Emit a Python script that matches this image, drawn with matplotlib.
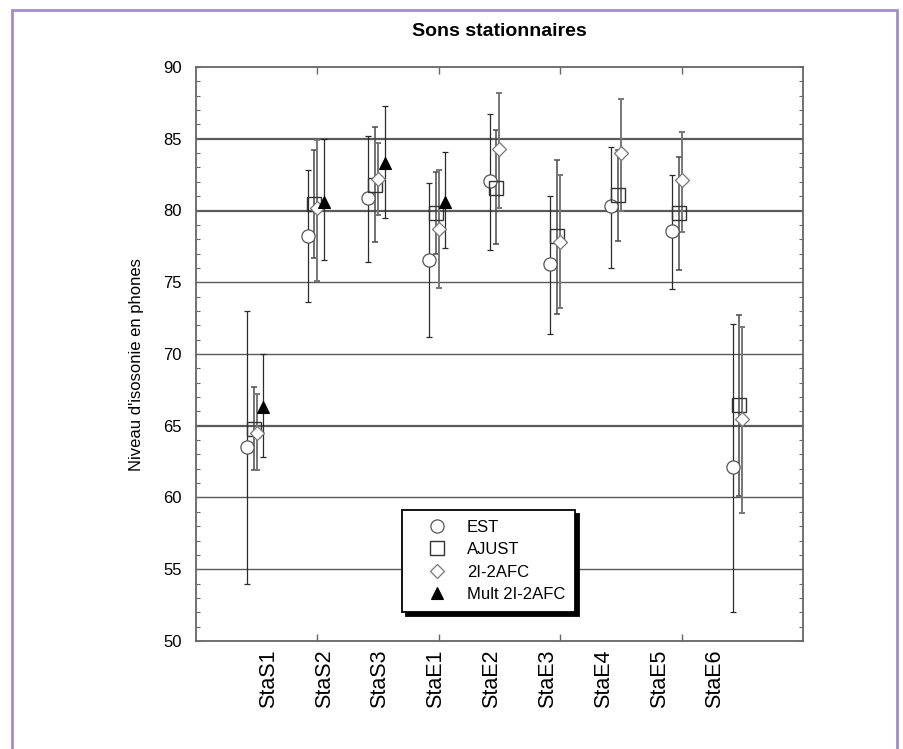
import matplotlib
matplotlib.use("Agg")
import matplotlib.pyplot as plt
import numpy as np
from matplotlib.patches import Rectangle

# values
stations = ["StaS1", "StaS2", "StaS3", "StaE1", "StaE2", "StaE3", "StaE4", "StaE5", "StaE6"]

est_mean = [63.5, 78.2, 80.85, 76.55, 82.05, 76.3, 80.3, 78.6, 62.1]
est_high = [73.0, 82.8, 85.2, 81.9, 86.7, 81.0, 84.4, 82.5, 72.1]
est_low = [54.0, 73.6, 76.4, 71.2, 77.25, 71.4, 76.0, 74.5, 52.0]

ajust_mean = [64.8, 80.45, 81.8, 79.85, 81.6, 78.2, 81.1, 79.8, 66.45]
ajust_high = [67.7, 84.2, 85.8, 82.7, 85.6, 83.5, 84.2, 83.75, 72.7]
ajust_low = [61.9, 76.7, 77.8, 77.0, 77.7, 72.8, 77.9, 75.85, 60.1]

afc_mean = [64.5, 80.2, 82.2, 78.7, 84.26, 77.8, 84.0, 82.1, 65.45]
afc_high = [67.2, 84.9, 84.7, 82.8, 88.2, 82.5, 87.8, 85.5, 71.9]
afc_low = [61.9, 75.1, 79.7, 74.6, 80.2, 73.2, 80.0, 78.5, 58.9]

mult_mean = [66.3, 80.6, 83.3, 80.6, np.nan, np.nan, np.nan, np.nan, np.nan]
mult_high = [70.0, 84.96, 87.3, 84.1, np.nan, np.nan, np.nan, np.nan, np.nan]
mult_low = [62.8, 76.55, 79.5, 77.4, np.nan, np.nan, np.nan, np.nan, np.nan]

series = [
    ("EST", est_mean, est_high, est_low, -0.16, dict(marker="o", ms=9.5, mfc="white", mec="#555555", mew=0.9), "#2a2a2a", 0.9),
    ("AJUST", ajust_mean, ajust_high, ajust_low, -0.05, dict(marker="s", ms=10, mfc="none", mec="#333333", mew=1.0), "#4a4a4a", 1.1),
    ("2I-2AFC", afc_mean, afc_high, afc_low, 0.0, dict(marker="D", ms=7, mfc="white", mec="#777777", mew=0.9), "#777777", 1.4),
    ("Mult 2I-2AFC", mult_mean, mult_high, mult_low, 0.11, dict(marker="^", ms=9, mfc="black", mec="black", mew=0.8), "#2a2a2a", 0.9),
]

plt.rcParams["font.family"] = ["Liberation Sans", "DejaVu Sans"]

fig = plt.figure(figsize=(9.04, 7.49), dpi=100)
ax = fig.add_axes([196 / 904, 108 / 749, 607 / 904, 574 / 749])

# purple page frame
fig.patches.append(Rectangle((12 / 904, -0.02), 885 / 904, 0.008 + (749 - 9) / 749 + 0.01,
                             transform=fig.transFigure, fill=False,
                             edgecolor="#a68cc7", linewidth=2.0, zorder=0))

x = np.arange(1, len(stations) + 1)

for level in [55, 60, 65, 70, 75, 80, 85]:
    lw = 1.6 if level in (65, 80, 85) else 1.0
    ax.axhline(level, color="#5a5a5a", lw=lw, zorder=1)

for name, mean, high, low, off, mk, ecol, elw in series:
    mean = np.array(mean)
    yerr = [mean - np.array(low), np.array(high) - mean]
    ax.errorbar(x + off, mean, yerr=yerr, fmt="none", ecolor=ecol, elinewidth=elw,
                capsize=2.2, capthick=elw, zorder=2)
    ax.plot(x + off, mean, linestyle="none", label=name, zorder=3, **mk)

ax.set_xlim(0, 10)
ax.set_ylim(50, 90)

ax.set_yticks(np.arange(50, 91, 5))
ax.set_yticks(np.arange(50, 91, 1), minor=True)
ax.tick_params(axis="y", which="both", direction="in", left=True, right=True,
               length=3, width=0.8, color="#666666", labelsize=12, pad=10)

ax.set_xticks([2, 4, 6, 8])
ax.set_xticklabels([])
label_pos = np.linspace(1.19, 8.55, len(stations))
ax.set_xticks(label_pos, stations, minor=True)
ax.tick_params(axis="x", which="major", direction="in", top=True, bottom=True,
               length=5, width=1.0, color="#666666")
ax.tick_params(axis="x", which="minor", length=0, labelsize=15.5, pad=6, labelrotation=90)

for sp in ax.spines.values():
    sp.set_color("#666666")
    sp.set_linewidth(1.3)

ax.set_ylabel("Niveau d'isosonie en phones", fontsize=12)
ax.yaxis.set_label_coords(-0.0855, 0.481)

ax.set_title("Sons stationnaires", fontsize=14, fontweight="bold", pad=22)

leg = ax.legend(loc="lower left", bbox_to_anchor=(0.339, 0.05), frameon=True,
                fontsize=12, labelspacing=0.45, handlelength=3.0, handletextpad=0.3,
                borderpad=0.6, borderaxespad=0, fancybox=False,
                shadow={"ox": 3, "oy": -3, "color": "black", "alpha": 1.0})
leg.get_frame().set_edgecolor("black")
leg.get_frame().set_linewidth(1.3)
leg.set_zorder(5)

fig.savefig("out.png", dpi=100)
